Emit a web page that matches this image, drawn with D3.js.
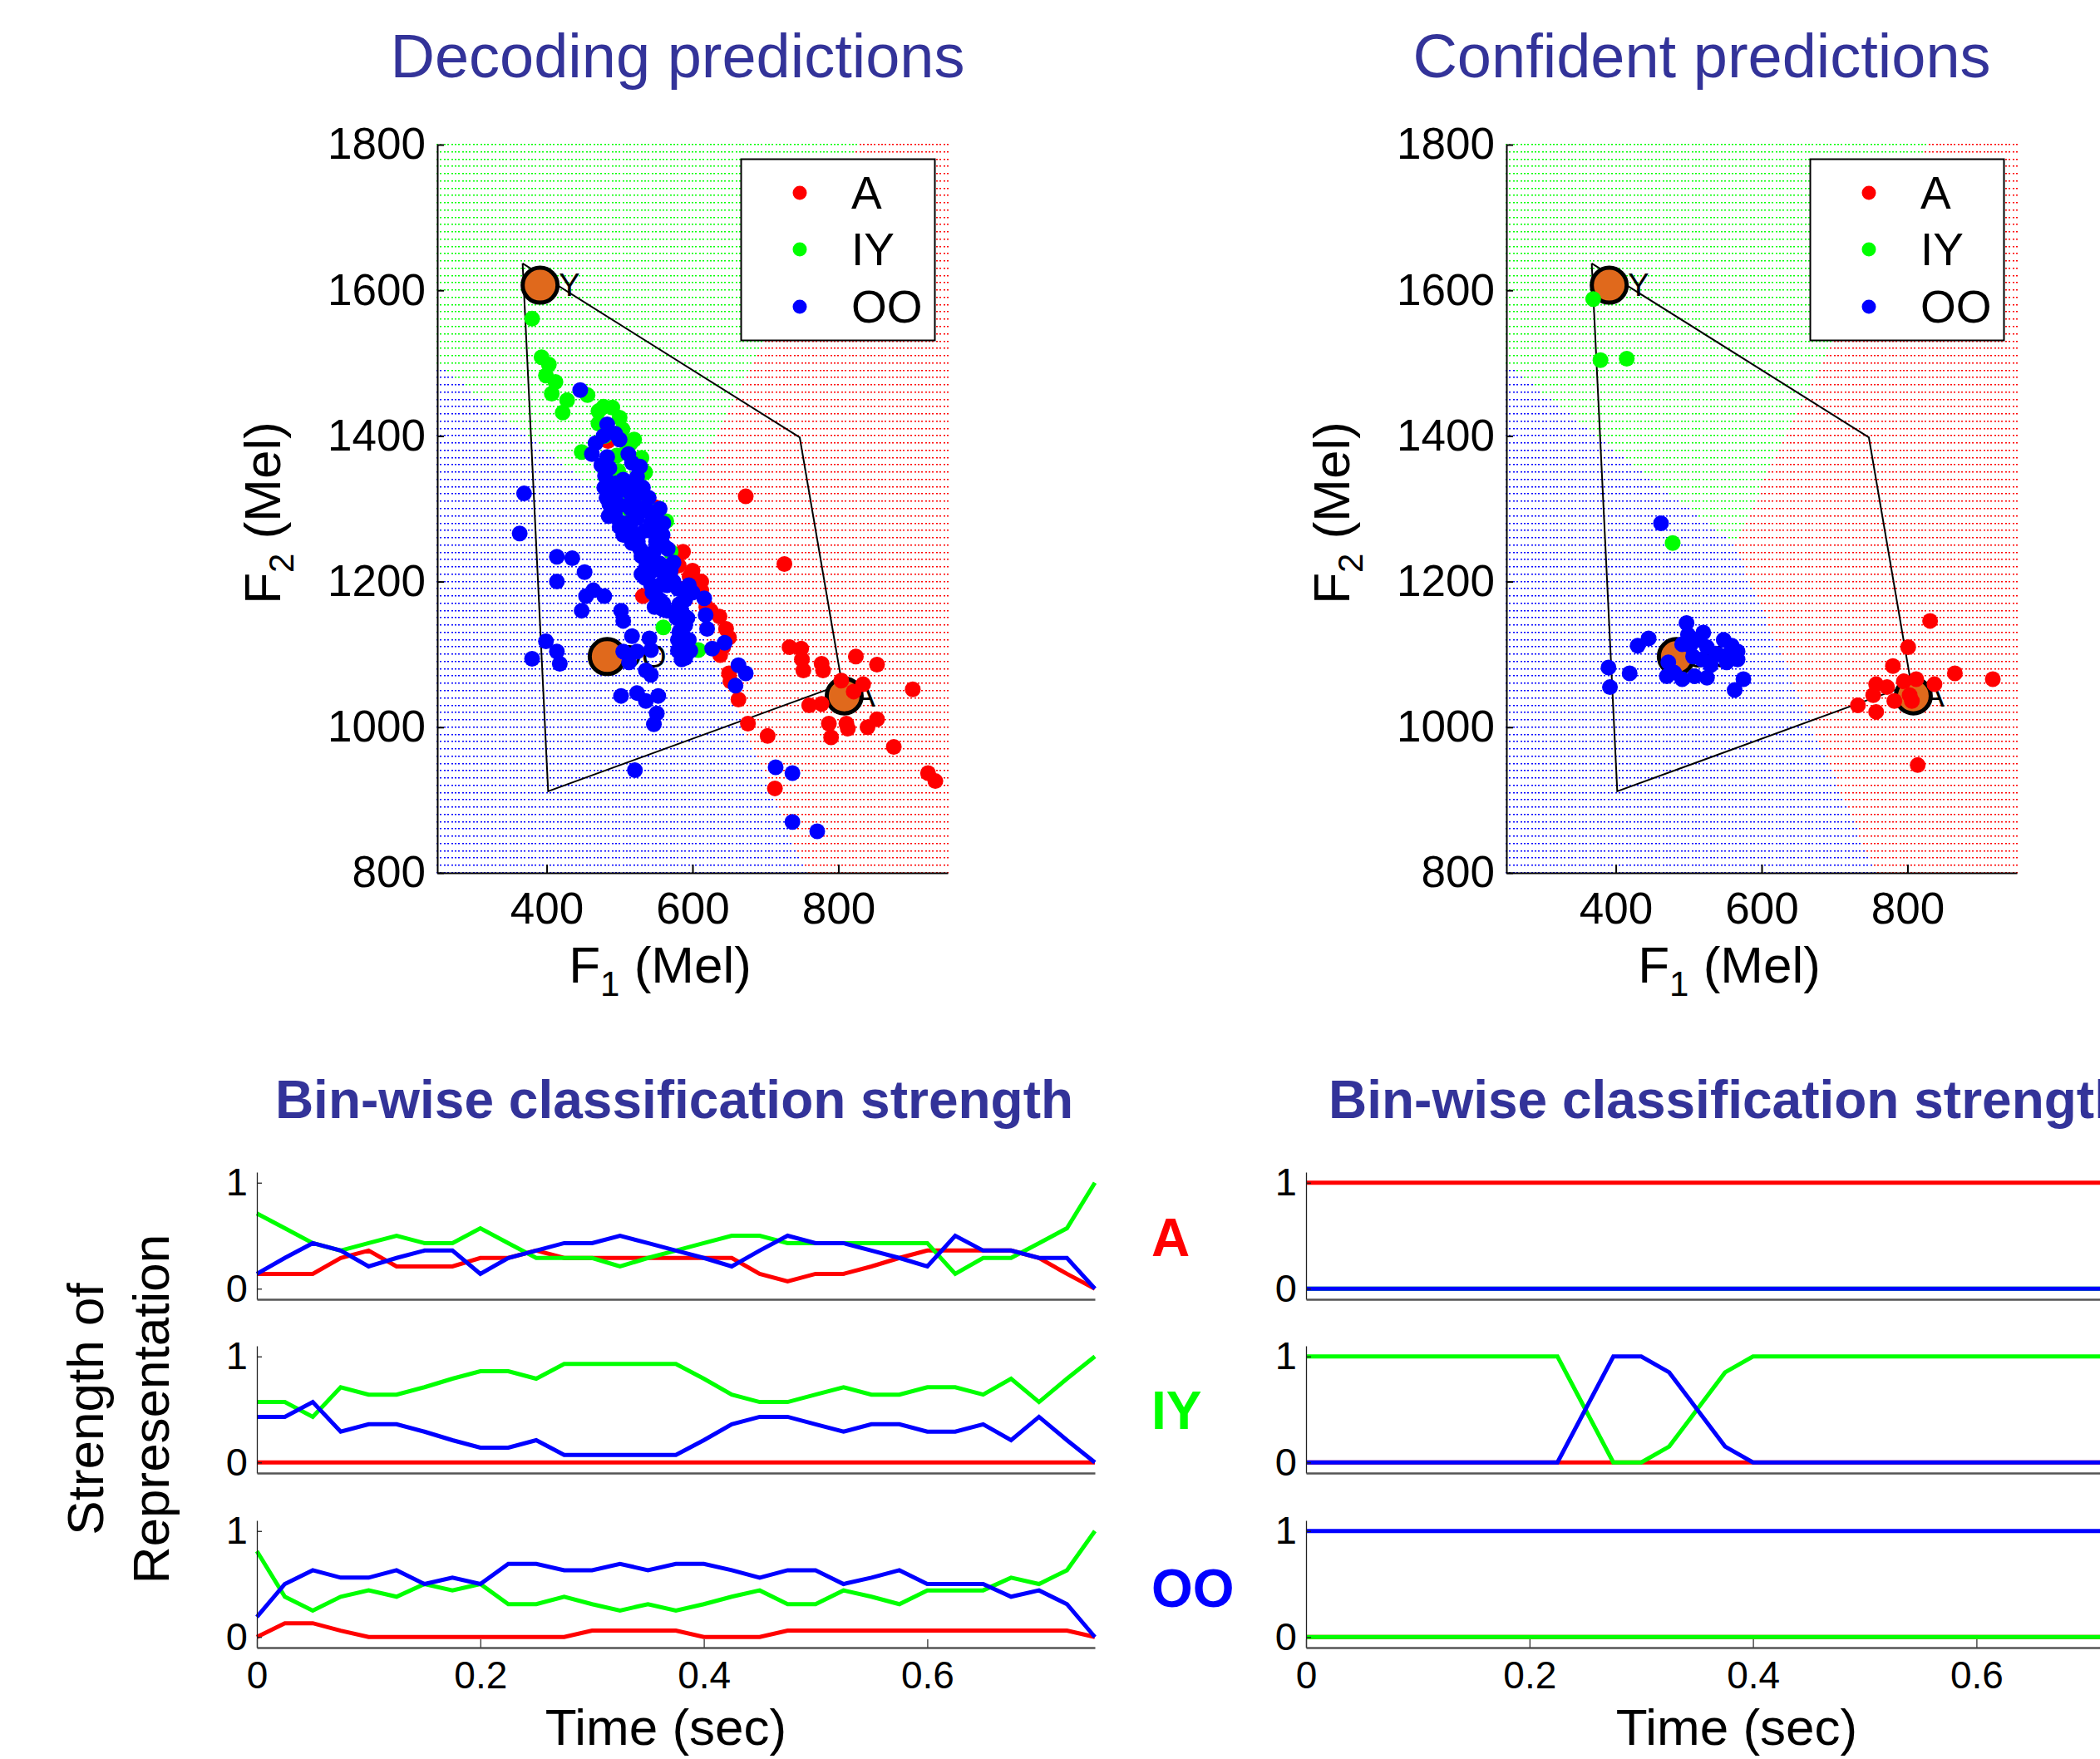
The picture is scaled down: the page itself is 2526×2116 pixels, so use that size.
<!DOCTYPE html>
<html><head><meta charset="utf-8">
<script src="https://cdn.jsdelivr.net/npm/d3@7"></script>
<style>
body{margin:0;background:#fff}
svg{display:block}
text{font-family:"Liberation Sans",Arial,Helvetica,sans-serif}
</style>
</head><body>
<svg id="c" width="2526" height="2116"></svg>
<script>
// ---------------- DATA ----------------
const vowelClasses = ["A", "IY", "OO"];
const classColors = ["#ff0000", "#00ff00", "#0000ff"];
const f1Domain = [250, 950];
const f2Domain = [800, 1800];
const f1Ticks = [400, 600, 800];
const f2Ticks = [800, 1000, 1200, 1400, 1600, 1800];
const timeDomain = [0, 0.75];
const timeTicks = [0, 0.2, 0.4, 0.6];
const strengthTicks = [0, 1];

// vowel prototypes (orange circles) and the vowel quadrilateral
const vowelCentroids = [
  {label: "A", f1: 808, f2: 1043},
  {label: "IY", f1: 391, f2: 1607},
  {label: "OO", f1: 483, f2: 1097}
];
const vowelPolygon = [[367, 1637], [747, 1398], [805, 1059], [402, 912]];

// decision regions: three boundary rays meeting at a triple point
const regionTriplePoint = [562, 1251];
const regionRayEnds = [[826, 1800], [250, 1498], [756, 800]]; // IY|A, OO|IY, A|OO
const gridStepF1 = 5, gridStepF2 = 10;

// Decoding predictions scatter (F1, F2 in Mel)
const decodeA = [[484,1393],[503,1317],[549,1302],[581,1222],[587,1241],[532,1180],[596,1207],[612,1200],[612,1188],[619,1165],[637,1152],[646,1135],[650,1123],[638,1099],[650,1074],[652,1063],[663,1038],[676,1005],[703,988],[713,916],[673,1317],[726,1224],[733,1110],[749,1108],[750,1093],[752,1078],[777,1087],[779,1078],[824,1097],[853,1086],[902,1052],[804,1064],[821,1049],[834,1059],[760,1030],[777,1032],[787,1005],[811,1005],[813,998],[790,986],[840,1000],[853,1011],[876,973],[923,937],[933,926],[575,1230],[600,1215],[625,1160],[642,1110]];
const decodeIY = [[380,1561],[393,1508],[403,1498],[399,1483],[412,1474],[407,1458],[428,1449],[422,1432],[456,1456],[448,1378],[471,1434],[490,1439],[471,1417],[504,1409],[515,1390],[496,1373],[519,1363],[498,1352],[505,1321],[513,1299],[480,1400],[510,1380],[525,1340],[530,1320],[540,1300],[520,1310],[560,1137],[608,1106],[570,1241],[564,1283],[478,1440],[500,1425],[520,1395],[530,1370],[535,1350]];
const decodeOO = [[446,1463],[369,1321],[483,1416],[494,1403],[467,1390],[483,1371],[486,1356],[517,1363],[524,1344],[532,1329],[479,1329],[486,1306],[517,1314],[536,1298],[494,1291],[524,1287],[547,1287],
[363,1266],[414,1234],[435,1232],[452,1213],[414,1200],[464,1188],[479,1180],[454,1180],[448,1160],[502,1160],[505,1146],[517,1125],[541,1122],[543,1106],[524,1104],[505,1104],[513,1089],[536,1078],[543,1072],[502,1043],[524,1047],[553,1043],[536,1036],[551,1019],[547,1004],[521,941],[399,1118],[414,1104],[418,1087],[380,1094],
[490,1293],[509,1280],[521,1264],[543,1280],[559,1264],[528,1245],[547,1241],[536,1219],[559,1215],[543,1196],[551,1177],[559,1162],[574,1200],[589,1188],[582,1169],[578,1150],[593,1150],[582,1131],[589,1112],[585,1093],[566,1245],[574,1226],[505,1264],[517,1253],
[495,1335],[520,1330],[505,1340],[530,1300],[545,1295],[515,1275],[535,1270],[550,1255],[540,1230],[555,1225],[535,1205],[550,1190],[565,1195],[595,1195],[590,1140],[595,1120],[580,1105],[560,1170],[548,1165],
[478,1400],[500,1395],[462,1375],[475,1360],[512,1375],[528,1358],[480,1345],[495,1320],[510,1325],[525,1320],[540,1315],[482,1315],[500,1305],[515,1300],[555,1300],[485,1290],[545,1270],[560,1280],[500,1275],[525,1255],[560,1250],[530,1235],[545,1215],[570,1215],[530,1210],[545,1185],[560,1200],[580,1190],[600,1185],[555,1175],[565,1160],[585,1160],[590,1095],[580,1120],[597,1105],[590,1175],
[616,1177],[618,1154],[620,1135],[627,1108],[644,1116],[663,1085],[673,1074],[659,1057],[714,945],[737,937],[737,870],[771,857]];

// Confident predictions scatter
const confA = [[831,1146],[801,1110],[780,1084],[812,1066],[837,1059],[865,1074],[917,1066],[757,1059],[753,1044],[772,1055],[803,1044],[806,1036],[782,1036],[732,1030],[757,1021],[814,948],[795,1063]];
const confIY = [[369,1588],[379,1504],[415,1506],[478,1253]];
const confOO = [[462,1280],[497,1143],[499,1127],[445,1122],[430,1112],[491,1114],[502,1112],[548,1120],[559,1112],[567,1104],[537,1101],[518,1093],[567,1093],[552,1089],[472,1089],[470,1070],[491,1066],[508,1070],[525,1068],[506,1097],[390,1082],[419,1074],[392,1055],[575,1066],[563,1051],[510,1120],[525,1110],[540,1100],[530,1085],[480,1075],[555,1100],[520,1130]];

// time bins (sec)
const timeSec = [0,0.025,0.05,0.075,0.1,0.125,0.15,0.175,0.2,0.225,0.25,0.275,0.3,0.325,0.35,0.375,0.4,0.425,0.45,0.475,0.5,0.525,0.55,0.575,0.6,0.625,0.65,0.675,0.7,0.725,0.75];

// Bin-wise classification strength, decoding (left column)
const binA_red   = [.14,.14,.14,.29,.36,.21,.21,.21,.29,.29,.36,.29,.29,.29,.29,.29,.29,.29,.14,.07,.14,.14,.21,.29,.36,.36,.36,.36,.29,.14,0];
const binA_green = [.71,.57,.43,.36,.43,.5,.43,.43,.57,.43,.29,.29,.29,.21,.29,.36,.43,.5,.5,.43,.43,.43,.43,.43,.43,.14,.29,.29,.43,.57,1];
const binA_blue  = [.14,.29,.43,.36,.21,.29,.36,.36,.14,.29,.36,.43,.43,.5,.43,.36,.29,.21,.36,.5,.43,.43,.36,.29,.21,.5,.36,.36,.29,.29,0];
const binIY_red   = [0,0,0,0,0,0,0,0,0,0,0,0,0,0,0,0,0,0,0,0,0,0,0,0,0,0,0,0,0,0,0];
const binIY_green = [.57,.57,.43,.71,.64,.64,.71,.79,.86,.86,.79,.93,.93,.93,.93,.93,.79,.64,.57,.57,.64,.71,.64,.64,.71,.71,.64,.79,.57,.79,1];
const binIY_blue  = [.43,.43,.57,.29,.36,.36,.29,.21,.14,.14,.21,.07,.07,.07,.07,.07,.21,.36,.43,.43,.36,.29,.36,.36,.29,.29,.36,.21,.43,.21,0];
const binOO_red   = [0,.13,.13,.06,0,0,0,0,0,0,0,0,.06,.06,.06,.06,0,0,0,.06,.06,.06,.06,.06,.06,.06,.06,.06,.06,.06,0];
const binOO_green = [.81,.38,.25,.38,.44,.38,.5,.44,.5,.31,.31,.38,.31,.25,.31,.25,.31,.38,.44,.31,.31,.44,.38,.31,.44,.44,.44,.56,.5,.63,1];
const binOO_blue  = [.19,.5,.63,.56,.56,.63,.5,.56,.5,.69,.69,.63,.63,.69,.63,.69,.69,.63,.56,.63,.63,.5,.56,.63,.5,.5,.5,.38,.44,.31,0];

// Bin-wise classification strength, confident (right column)
const cbinA_red   = [1,1,1,1,1,1,1,1,1,1,1,1,1,1,1,1,1,1,1,1,1,1,1,1,1,1,1,1,1,1,1];
const cbinA_green = [0,0,0,0,0,0,0,0,0,0,0,0,0,0,0,0,0,0,0,0,0,0,0,0,0,0,0,0,0,0,0];
const cbinA_blue  = [0,0,0,0,0,0,0,0,0,0,0,0,0,0,0,0,0,0,0,0,0,0,0,0,0,0,0,0,0,0,0];
const cbinIY_red   = [0,0,0,0,0,0,0,0,0,0,0,0,0,0,0,0,0,0,0,0,0,0,0,0,0,0,0,0,0,0,0];
const cbinIY_green = [1,1,1,1,1,1,1,1,1,1,.5,0,0,.15,.5,.85,1,1,1,1,1,1,1,1,1,1,1,1,1,1,1];
const cbinIY_blue  = [0,0,0,0,0,0,0,0,0,0,.5,1,1,.85,.5,.15,0,0,0,0,0,0,0,0,0,0,0,0,0,0,0];
const cbinOO_red   = [0,0,0,0,0,0,0,0,0,0,0,0,0,0,0,0,0,0,0,0,0,0,0,0,0,0,0,0,0,0,0];
const cbinOO_green = [0,0,0,0,0,0,0,0,0,0,0,0,0,0,0,0,0,0,0,0,0,0,0,0,0,0,0,0,0,0,0];
const cbinOO_blue  = [1,1,1,1,1,1,1,1,1,1,1,1,1,1,1,1,1,1,1,1,1,1,1,1,1,1,1,1,1,1,1];

// ---------------- DRAWING ----------------
const svg = d3.select("#c");
const titleColor = "#333399";
const orange = "#e0691c";
const FONT = '"Liberation Sans",Arial,sans-serif';

function drawScatter(cfg) {
  const x = d3.scaleLinear().domain(f1Domain).range([cfg.x0, cfg.x0 + 614]);
  const y = d3.scaleLinear().domain(f2Domain).range([1050, 174]);
  const g = svg.append("g");

  // decision-region dot grid
  const T = regionTriplePoint;
  const [aGR, aBG, aBR] = regionRayEnds.map(p => Math.atan2(p[1] - T[1], p[0] - T[0]));
  const paths = ["", "", ""];
  const n1 = (f1Domain[1] - f1Domain[0]) / gridStepF1, n2 = (f2Domain[1] - f2Domain[0]) / gridStepF2;
  for (let i = 0; i <= n1; i++) {
    const f1 = f1Domain[0] + i * gridStepF1;
    for (let j = 0; j <= n2; j++) {
      const f2 = f2Domain[0] + j * gridStepF2;
      const a = Math.atan2(f2 - T[1], f1 - T[0]);
      let c;
      if (a >= aGR && a < aBG) c = 1; else if (a >= aBR && a < aGR) c = 0; else c = 2;
      const px = Math.round(x(f1)), py = Math.round(y(f2));
      paths[c] += "M" + (px - 1) + "," + (py - 1) + "h2v1.5h-2z";
    }
  }
  paths.forEach((d, k) => g.append("path").attr("d", d).attr("fill", classColors[k]));

  // vowel quadrilateral
  g.append("path")
    .attr("d", d3.line().x(d => x(d[0])).y(d => y(d[1]))(vowelPolygon.concat([vowelPolygon[0]])))
    .attr("fill", "none").attr("stroke", "#000").attr("stroke-width", 2);

  // vowel labels
  g.selectAll(".vl").data(vowelCentroids).join("text")
    .attr("x", d => x(d.f1) + 12).attr("y", d => y(d.f2))
    .attr("dominant-baseline", "central")
    .attr("font-size", 38).attr("fill", "#000")
    .text(d => d.label);

  // vowel prototype circles
  g.selectAll(".vc").data(vowelCentroids).join("circle")
    .attr("cx", d => x(d.f1)).attr("cy", d => y(d.f2)).attr("r", 21)
    .attr("fill", orange).attr("stroke", "#000").attr("stroke-width", 5);

  // scatter
  cfg.sets.forEach((pts, k) => {
    g.append("g").selectAll("circle").data(pts).join("circle")
      .attr("cx", d => x(d[0])).attr("cy", d => y(d[1])).attr("r", 9.5)
      .attr("fill", classColors[k]);
  });

  // axes
  const ya = g.append("g").attr("transform", `translate(${cfg.x0},0)`)
    .call(d3.axisLeft(y).tickValues(f2Ticks).tickFormat(d3.format("d")).tickSize(-8).tickSizeOuter(0).tickPadding(14));
  const xa = g.append("g").attr("transform", `translate(0,1050)`)
    .call(d3.axisBottom(x).tickValues(f1Ticks).tickFormat(d3.format("d")).tickSize(-10).tickSizeOuter(0).tickPadding(23));
  [ya, xa].forEach(a => {
    a.select(".domain").attr("stroke", "#000").attr("stroke-width", 2);
    a.selectAll(".tick line").attr("stroke", "#000").attr("stroke-width", 2);
    a.selectAll(".tick text").attr("font-size", 53).attr("fill", "#000").attr("font-family", FONT);
  });

  // legend
  const lg = g.append("g");
  lg.append("rect").attr("x", cfg.x0 + 365.5).attr("y", 191.5).attr("width", 233).attr("height", 218)
    .attr("fill", "#fff").attr("stroke", "#000").attr("stroke-width", 2);
  const rowsY = [232, 300, 369];
  vowelClasses.forEach((c, k) => {
    lg.append("circle").attr("cx", cfg.x0 + 436).attr("cy", rowsY[k]).attr("r", 8.5).attr("fill", classColors[k]);
    lg.append("text").attr("x", cfg.x0 + 498).attr("y", rowsY[k]).attr("dominant-baseline", "central")
      .attr("font-size", 55).attr("fill", "#000").text(c);
  });

  // title
  svg.append("text").attr("x", cfg.titleX).attr("y", 93).attr("text-anchor", "middle")
    .attr("font-size", 74).attr("fill", titleColor).text(cfg.title);

  // axis labels
  const xl = svg.append("text").attr("x", cfg.x0 + 268).attr("y", 1182).attr("text-anchor", "middle")
    .attr("font-size", 62).attr("fill", "#000");
  xl.append("tspan").text("F");
  xl.append("tspan").attr("font-size", 42).attr("dy", 16).text("1");
  xl.append("tspan").attr("dy", -16).text(" (Mel)");
  const yl = svg.append("text").attr("transform", `translate(${cfg.x0 - 189},617) rotate(-90)`)
    .attr("text-anchor", "middle").attr("font-size", 62).attr("fill", "#000");
  yl.append("tspan").text("F");
  yl.append("tspan").attr("font-size", 42).attr("dy", 16).text("2");
  yl.append("tspan").attr("dy", -16).text(" (Mel)");
}

drawScatter({x0: 526, title: "Decoding predictions", titleX: 815, sets: [decodeA, decodeIY, decodeOO]});
drawScatter({x0: 1812, title: "Confident predictions", titleX: 2047, sets: [confA, confIY, confOO]});

// ---------- bottom strength panels ----------
const panelTops = [1410, 1619, 1829];
const panelH = 153;
function drawStrengthColumn(cfg) {
  const x = d3.scaleLinear().domain(timeDomain).range([cfg.x0, cfg.x0 + 1008]);
  cfg.panels.forEach((series, p) => {
    const top = panelTops[p];
    const y = d3.scaleLinear().domain([-0.1, 1.1]).range([top + panelH, top]);
    const g = svg.append("g");
    const line = d3.line().x((d, i) => x(timeSec[i])).y(d => y(d));
    series.forEach((vals, k) => {
      g.append("path").attr("d", line(vals)).attr("fill", "none")
        .attr("stroke", classColors[k]).attr("stroke-width", 5).attr("stroke-linejoin", "miter");
    });
    const ya = g.append("g").attr("transform", `translate(${cfg.x0},0)`)
      .call(d3.axisLeft(y).tickValues(strengthTicks).tickFormat(d3.format("d")).tickSize(-6).tickSizeOuter(0).tickPadding(11));
    ya.select(".domain").attr("stroke", "#222").attr("stroke-width", 1.3);
    ya.selectAll(".tick line").attr("stroke", "#222").attr("stroke-width", 1.3);
    ya.selectAll(".tick text").attr("font-size", 47).attr("fill", "#000").attr("font-family", FONT);
    const last = p === 2;
    const xa = g.append("g").attr("transform", `translate(0,${top + panelH})`)
      .call(d3.axisBottom(x).tickValues(last ? timeTicks : []).tickFormat(d3.format("")).tickSize(-10).tickSizeOuter(0).tickPadding(16));
    xa.select(".domain").attr("stroke", "#555").attr("stroke-width", 2.5);
    xa.selectAll(".tick line").attr("stroke", "#333").attr("stroke-width", 1.3);
    xa.selectAll(".tick text").attr("font-size", 46).attr("fill", "#000").attr("font-family", FONT);
  });
  svg.append("text").attr("x", cfg.titleX).attr("y", 1345).attr("text-anchor", cfg.titleAnchor)
    .attr("font-size", 64).attr("font-weight", "bold").attr("fill", titleColor)
    .text("Bin-wise classification strength");
  svg.append("text").attr("x", cfg.xLabelX).attr("y", 2099).attr("text-anchor", "middle")
    .attr("font-size", 62).attr("fill", "#000").text("Time (sec)");
}

drawStrengthColumn({x0: 309, titleX: 811, titleAnchor: "middle", xLabelX: 801,
  panels: [[binA_red, binA_green, binA_blue], [binIY_red, binIY_green, binIY_blue], [binOO_red, binOO_green, binOO_blue]]});
drawStrengthColumn({x0: 1571, titleX: 1598, titleAnchor: "start", xLabelX: 2089,
  panels: [[cbinA_red, cbinA_green, cbinA_blue], [cbinIY_red, cbinIY_green, cbinIY_blue], [cbinOO_red, cbinOO_green, cbinOO_blue]]});

// panel class labels
const panelLabelY = [1511, 1719, 1933];
vowelClasses.forEach((c, k) => {
  svg.append("text").attr("x", 1385).attr("y", panelLabelY[k]).attr("text-anchor", "start")
    .attr("font-size", 64).attr("font-weight", "bold").attr("fill", classColors[k]).text(c);
});

// shared y label
svg.append("text").attr("transform", "translate(124,1695) rotate(-90)")
  .attr("text-anchor", "middle").attr("font-size", 62).attr("fill", "#000").text("Strength of");
svg.append("text").attr("transform", "translate(203,1695) rotate(-90)")
  .attr("text-anchor", "middle").attr("font-size", 62).attr("fill", "#000").text("Representation");
</script>
</body></html>
